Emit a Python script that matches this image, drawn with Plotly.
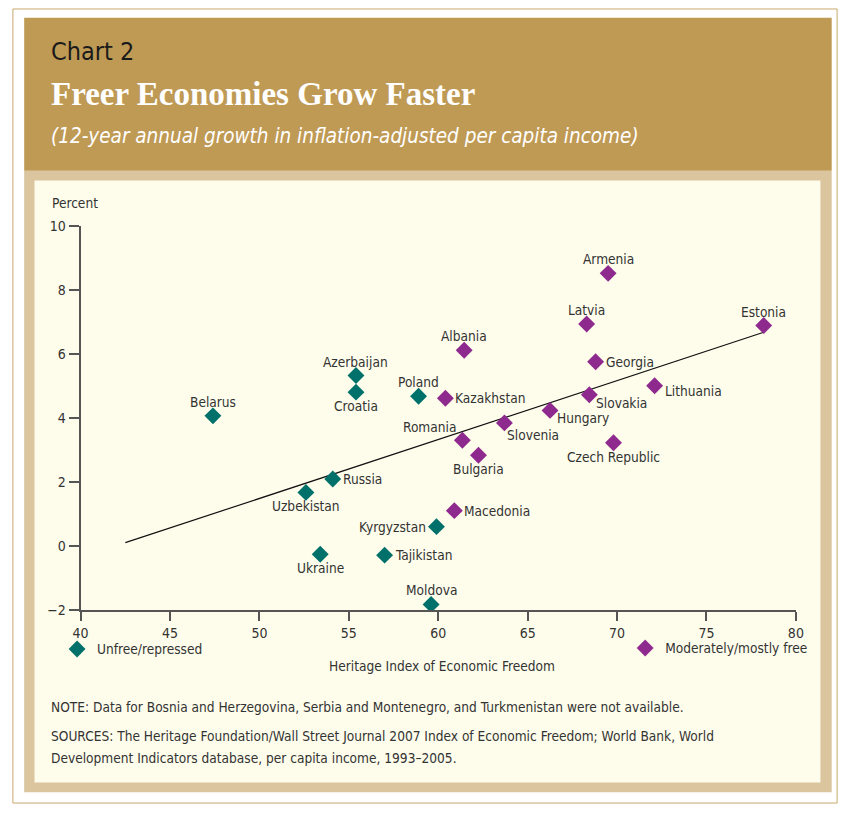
import plotly.graph_objects as go

# ---------------- data ----------------
unfree_names = ["Belarus", "Azerbaijan", "Croatia", "Poland", "Russia", "Uzbekistan",
                "Kyrgyzstan", "Ukraine", "Tajikistan", "Moldova"]
unfree_x = [47.4, 55.4, 55.4, 58.9, 54.1, 52.6, 59.9, 53.4, 57.0, 59.6]
unfree_y = [4.06, 5.32, 4.80, 4.67, 2.09, 1.67, 0.60, -0.26, -0.29, -1.83]
unfree_label = ["top", "top", "bottom", "top", "right", "bottom", "left", "bottom", "right", "top"]

free_names = ["Armenia", "Latvia", "Estonia", "Albania", "Georgia", "Kazakhstan", "Lithuania",
              "Slovakia", "Hungary", "Slovenia", "Romania", "Bulgaria", "Czech Republic", "Macedonia"]
free_x = [69.5, 68.3, 78.2, 61.45, 68.8, 60.4, 72.1, 68.45, 66.25, 63.7, 61.35, 62.25, 69.8, 60.9]
free_y = [8.51, 6.93, 6.88, 6.11, 5.75, 4.61, 5.00, 4.72, 4.23, 3.84, 3.30, 2.83, 3.22, 1.10]
free_label = ["top", "top", "top", "top", "right", "right", "right_low", "below_right",
              "below_right", "below_right2", "above_left", "bottom", "bottom", "right"]

trend_x = [42.5, 78.2]
trend_y = [0.10, 6.67]

x_ticks = [40, 45, 50, 55, 60, 65, 70, 75, 80]
y_ticks = [-2, 0, 2, 4, 6, 8, 10]

# ---------------- style ----------------
W, H = 850, 813
TEAL = "#00706b"
PURPLE = "#8e2a8e"
TXT = "#333333"
NARROW = "DejaVu Sans Condensed, Liberation Sans Narrow, Arial Narrow, sans-serif"
SERIF = "Liberation Serif, DejaVu Serif, serif"
FS = 13.6
MSIZE = 13

# label placement: (xanchor, xshift, yshift) with text vertically centred
LABEL_OFFSETS = {
    "top": ("center", 0, 14),
    "bottom": ("center", 0, -14),
    "right": ("left", 8, 0),
    "right_low": ("left", 8, -5),
    "left": ("right", -8, 0),
    "below_right": ("left", 5, -8),
    "below_right2": ("left", 1, -12),
    "above_left": ("right", -4, 13),
}


def px(x):
    return x / W


def py(y):
    return 1 - y / H


fig = go.Figure()

fig.add_trace(go.Scatter(x=trend_x, y=trend_y, mode="lines",
                         line=dict(color="#111111", width=1.2), showlegend=False,
                         hoverinfo="skip"))

fig.add_trace(go.Scatter(x=unfree_x, y=unfree_y, mode="markers", name="Unfree/repressed",
                         marker=dict(symbol="diamond", size=MSIZE, color=TEAL),
                         legend="legend"))
fig.add_trace(go.Scatter(x=free_x, y=free_y, mode="markers", name="Moderately/mostly free",
                         marker=dict(symbol="diamond", size=MSIZE, color=PURPLE),
                         legend="legend2"))

annotations = []
for names, xs, ys, codes in [(unfree_names, unfree_x, unfree_y, unfree_label),
                             (free_names, free_x, free_y, free_label)]:
    for n, xv, yv, c in zip(names, xs, ys, codes):
        xa, dx, dy = LABEL_OFFSETS[c]
        annotations.append(dict(text=n, x=xv, y=yv, xref="x", yref="y", showarrow=False,
                                xanchor=xa, yanchor="middle", xshift=dx, yshift=dy,
                                font=dict(family=NARROW, size=FS, color=TXT)))

shapes = [
    dict(type="rect", xref="paper", yref="paper", x0=px(5), x1=px(845), y0=py(811), y1=py(1),
         line=dict(color="#c9a96e", width=1), fillcolor="white", layer="below"),
    dict(type="rect", xref="paper", yref="paper", x0=px(16.5), x1=px(839.5), y0=py(800), y1=py(166),
         line=dict(width=0), fillcolor="#dbc59e", layer="below"),
    dict(type="rect", xref="paper", yref="paper", x0=px(16.5), x1=px(839.5), y0=py(166), y1=py(10),
         line=dict(width=0), fillcolor="#bf9a55", layer="below"),
    dict(type="rect", xref="paper", yref="paper", x0=px(27), x1=px(828), y0=py(790), y1=py(176),
         line=dict(width=0), fillcolor="#fefdeb", layer="below"),
]

annotations += [
    dict(text="Chart 2", x=px(42), y=py(44), xref="paper", yref="paper", xanchor="left",
         yanchor="middle", showarrow=False, font=dict(family=NARROW, size=25, color="#1a1a1a")),
    dict(text="<b>Freer Economies Grow Faster</b>", x=px(42), y=py(88), xref="paper", yref="paper",
         xanchor="left", yanchor="middle", showarrow=False,
         font=dict(family=SERIF, size=33, color="white")),
    dict(text="<i>(12-year annual growth in inflation-adjusted per capita income)</i>", x=px(42),
         y=py(131), xref="paper", yref="paper", xanchor="left", yanchor="middle", showarrow=False,
         font=dict(family=NARROW, size=20.5, color="white")),
    dict(text="Percent", x=px(43), y=py(199), xref="paper", yref="paper", xanchor="left",
         yanchor="middle", showarrow=False, font=dict(family=NARROW, size=FS, color=TXT)),
    dict(text="Heritage Index of Economic Freedom", x=px(442), y=py(671), xref="paper",
         yref="paper", xanchor="center", yanchor="middle", showarrow=False,
         font=dict(family=NARROW, size=FS, color=TXT)),
    dict(text="NOTE: Data for Bosnia and Herzegovina, Serbia and Montenegro, and Turkmenistan were not available.",
         x=px(42), y=py(713), xref="paper", yref="paper", xanchor="left", yanchor="middle",
         showarrow=False, font=dict(family=NARROW, size=13.6, color=TXT)),
    dict(text="SOURCES: The Heritage Foundation/Wall Street Journal 2007 Index of Economic Freedom; World Bank, World",
         x=px(42), y=py(743), xref="paper", yref="paper", xanchor="left", yanchor="middle",
         showarrow=False, font=dict(family=NARROW, size=13.6, color=TXT)),
    dict(text="Development Indicators database, per capita income, 1993–2005.",
         x=px(42), y=py(765), xref="paper", yref="paper", xanchor="left", yanchor="middle",
         showarrow=False, font=dict(family=NARROW, size=13.6, color=TXT)),
]

fig.update_layout(
    width=W, height=H, margin=dict(l=0, r=0, t=0, b=0),
    paper_bgcolor="white", plot_bgcolor="rgba(0,0,0,0)",
    shapes=shapes, annotations=annotations,
    font=dict(family=NARROW, size=FS, color=TXT),
    xaxis=dict(domain=[px(74), px(803)], range=[40, 80], tickvals=x_ticks,
               showgrid=False, zeroline=False, showline=True, linecolor="#555555", linewidth=2,
               ticks="outside", ticklen=9, tickwidth=1.5, tickcolor="#555555",
               tickfont=dict(family=NARROW, size=14, color=TXT)),
    yaxis=dict(domain=[py(614), py(222)], range=[-2, 10], tickvals=y_ticks,
               showgrid=False, zeroline=False, showline=True, linecolor="#555555", linewidth=2,
               ticks="outside", ticklen=10, tickwidth=1.5, tickcolor="#555555",
               tickfont=dict(family=NARROW, size=14, color=TXT)),
    legend=dict(x=px(50), y=py(654), xanchor="left", yanchor="middle", bgcolor="rgba(0,0,0,0)",
                font=dict(family=NARROW, size=FS, color=TXT), itemwidth=30),
    legend2=dict(x=px(629), y=py(653), xanchor="left", yanchor="middle", bgcolor="rgba(0,0,0,0)",
                 font=dict(family=NARROW, size=FS, color=TXT), itemwidth=30),
)

fig.write_html("out.html", config={"displayModeBar": False},
               post_script="document.body.style.margin='0';document.body.style.overflow='hidden';")
